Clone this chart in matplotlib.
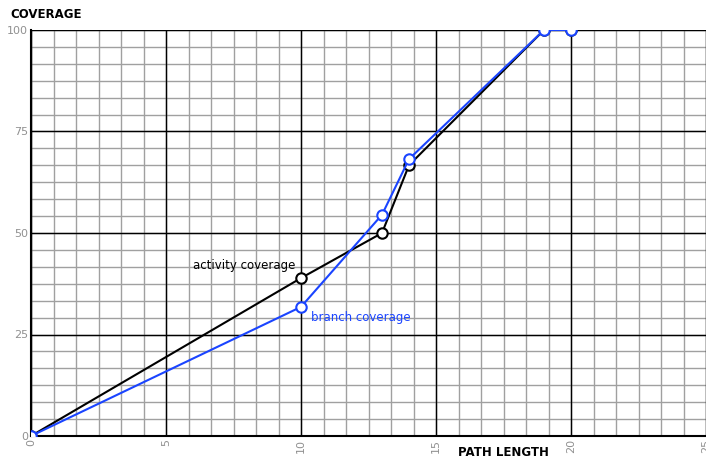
import matplotlib
matplotlib.use("Agg")
import matplotlib.pyplot as plt
import numpy as np

# path length vs. coverage (%)
path_len = [0, 10, 13, 14, 19, 20]
activity = [0, 38.9, 50.0, 66.7, 100, 100]
branch = [0, 31.8, 54.5, 68.2, 100, 100]

x_ticks = [0, 5, 10, 15, 20, 25]
y_ticks = [0, 25, 50, 75, 100]

fig = plt.figure(figsize=(7.06, 4.62), dpi=100)
ax = fig.add_axes([31 / 706, 26 / 462, 675 / 706, 406 / 462])

ax.set_xlim(0, 25)
ax.set_ylim(0, 100)

# minor grid: 6 divisions per major step
for xv in np.linspace(0, 25, 31):
    ax.axvline(xv, color="#a0a0a0", lw=1, zorder=0)
for yv in np.linspace(0, 100, 25):
    ax.axhline(yv, color="#a0a0a0", lw=1, zorder=0)
for xv in x_ticks:
    ax.axvline(xv, color="black", lw=1, zorder=0.5)
for yv in y_ticks:
    ax.axhline(yv, color="black", lw=1, zorder=0.5)

ax.plot(path_len, activity, color="black", lw=1.5, marker="o", ms=7.5,
        mfc="white", mec="black", mew=1.5, zorder=3)
ax.plot(path_len, branch, color="#1a44ff", lw=1.5, marker="o", ms=7.5,
        mfc="white", mec="#1a44ff", mew=1.5, zorder=4)

ax.text(9.78, 41.9, "activity coverage", ha="right", va="center",
        fontsize=8.5, color="black")
ax.text(10.37, 29.3, "branch coverage", ha="left", va="center",
        fontsize=8.5, color="#1a44ff")

ax.set_xticks(x_ticks)
ax.set_yticks(y_ticks)
ax.set_xticklabels([str(v) for v in x_ticks], rotation=90, color="#909090", fontsize=8)
ax.set_yticklabels([str(v) for v in y_ticks], color="#909090", fontsize=8)
ax.tick_params(length=0, pad=2)

for s in ["top", "right"]:
    ax.spines[s].set_visible(False)
ax.spines["left"].set_linewidth(1.5)
ax.spines["bottom"].set_linewidth(1.5)

fig.text(10 / 706, 1 - 15 / 462, "COVERAGE", fontsize=8.5, fontweight="bold",
         ha="left", va="center")
fig.text(503 / 706, 1 - 452 / 462, "PATH LENGTH", fontsize=8.5, fontweight="bold",
         ha="center", va="center")

fig.savefig("out.png", dpi=100)
